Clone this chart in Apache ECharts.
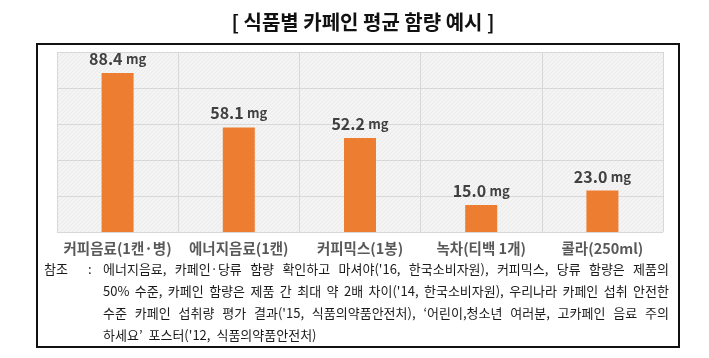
<!DOCTYPE html>
<html><head><meta charset="utf-8">
<script src="https://cdn.jsdelivr.net/npm/echarts@6/dist/echarts.min.js"></script>
<style>html,body{margin:0;padding:0;background:#fff}#c{width:709px;height:358px}</style>
</head><body><div id="c"></div>
<script>
const titleText = '[ 식품별 카페인 평균 함량 예시 ]';
const categories = ['커피음료(1캔·병)', '에너지음료(1캔)', '커피믹스(1봉)', '녹차(티백 1개)', '콜라(250ml)'];
const values = [88.4, 58.1, 52.2, 15.0, 23.0];
const unit = 'mg';
const noteLabel = '참조';
const noteLines = [
  "에너지음료, 카페인·당류 함량 확인하고 마셔야('16, 한국소비자원), 커피믹스, 당류 함량은 제품의",
  "50% 수준, 카페인 함량은 제품 간 최대 약 2배 차이('14, 한국소비자원), 우리나라 카페인 섭취 안전한",
  "수준 카페인 섭취량 평가 결과('15, 식품의약품안전처), ‘어린이,청소년 여러분, 고카페인 음료 주의",
  "하세요’ 포스터('12, 식품의약품안전처)"
];

const FONT = '"Noto Sans CJK KR", "Noto Sans", sans-serif';
const chart = echarts.init(document.getElementById('c'), null, {renderer: 'canvas'});

// hatch pattern for plot background
const pc = document.createElement('canvas');
pc.width = 4; pc.height = 4;
const pctx = pc.getContext('2d');
pctx.fillStyle = '#f4f4f4'; pctx.fillRect(0, 0, 4, 4);
pctx.strokeStyle = '#eaeaea'; pctx.lineWidth = 1;
pctx.beginPath(); pctx.moveTo(0, 4); pctx.lineTo(4, 0); pctx.stroke();
const hatch = {image: pc, repeat: 'repeat'};

// footnote words, justified
const ctx = document.createElement('canvas').getContext('2d');
const noteFont = '13px ' + FONT;
ctx.font = noteFont;
const noteX0 = 103, noteX1 = 669, noteY0 = 272, noteDy = 22;
const noteGraphics = [];
noteLines.forEach((line, i) => {
  const words = line.split(' ');
  const widths = words.map(w => ctx.measureText(w).width);
  const total = widths.reduce((a, b) => a + b, 0);
  const justify = i < noteLines.length - 1;
  const gap = justify ? (noteX1 - noteX0 - total) / (words.length - 1) : 6;
  let x = noteX0;
  words.forEach((w, j) => {
    noteGraphics.push({type: 'text', left: x, top: noteY0 + i * noteDy - 9,
      style: {text: w, font: noteFont, fill: '#1a1a1a'}});
    x += widths[j] + gap;
  });
});

chart.setOption({
  animation: false,
  title: {text: titleText, left: 358, top: 7, textAlign: 'center',
    textStyle: {fontFamily: FONT, fontSize: 20, fontWeight: 'bold', color: '#111'}},
  grid: {left: 57, right: 46, top: 52, bottom: 126, show: true, backgroundColor: hatch, borderWidth: 0},
  xAxis: {type: 'category', data: categories,
    axisLine: {show: false}, axisTick: {show: false},
    splitLine: {show: true, lineStyle: {color: '#d8d8d8', width: 1}},
    axisLabel: {fontFamily: FONT, fontSize: 14.5, fontWeight: 'bold', color: '#595959', margin: 9, interval: 0}},
  yAxis: {type: 'value', min: 0, max: 100, interval: 20,
    axisLabel: {show: false}, axisLine: {show: false}, axisTick: {show: false},
    splitLine: {lineStyle: {color: '#d8d8d8', width: 1}}},
  series: [{type: 'bar', data: values, barWidth: 32,
    itemStyle: {color: '#ED7D31'},
    label: {show: true, position: 'top', distance: 6,
      formatter: p => '{v|' + p.value.toFixed(1) + '} {u|' + unit + '}',
      rich: {v: {fontFamily: FONT, fontSize: 16, fontWeight: 'bold', color: '#404040'},
             u: {fontFamily: FONT, fontSize: 13, fontWeight: 'bold', color: '#404040'}}}}],
  graphic: [
    {type: 'rect', shape: {x: 37, y: 44, width: 642, height: 303}, style: {fill: 'none', stroke: '#111', lineWidth: 2}, z: 100},
    {type: 'text', left: 44, top: noteY0 - 9, style: {text: noteLabel, font: noteFont, fill: '#1a1a1a'}},
    {type: 'text', left: 88, top: noteY0 - 9, style: {text: ':', font: noteFont, fill: '#1a1a1a'}}
  ].concat(noteGraphics)
});
</script></body></html>
